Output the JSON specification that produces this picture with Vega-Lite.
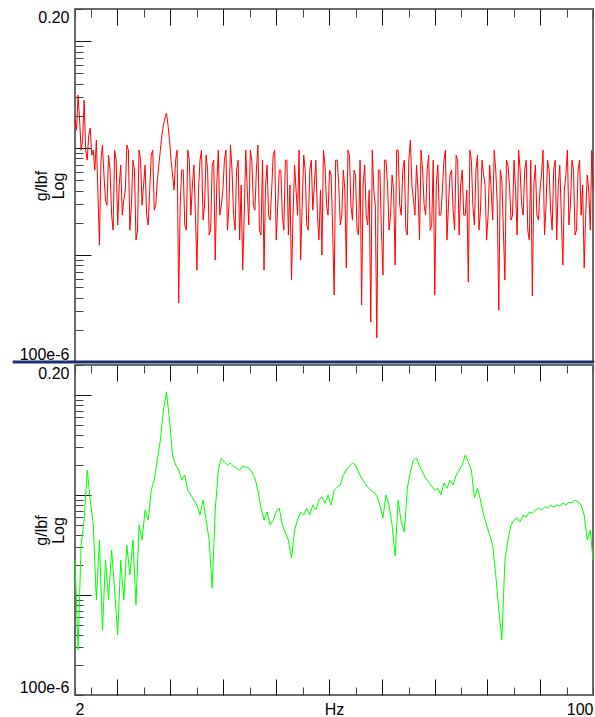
{
  "$schema": "https://vega.github.io/schema/vega-lite/v6.json",
  "background": "white",
  "padding": {"left": 10, "top": 8, "right": 0, "bottom": 0},
  "bounds": "flush",
  "spacing": 3,
  "config": {
    "view": {"stroke": "#6b6b6b", "strokeWidth": 2},
    "style": {"guide-title": {"lineBreak": "\n"}},
    "axis": {"labelFont": "Liberation Sans", "labelFontSize": 16, "labelColor": "#000", "titleFont": "Liberation Sans", "titleFontSize": 16, "titleFontWeight": "normal", "titleColor": "#000"}
  },
  "datasets": {
    "red": [
      {"f":2.000,"v":0.0183},{"f":2.047,"v":0.0313},{"f":2.094,"v":0.00958},{"f":2.143,"v":0.0281},{"f":2.193,"v":0.00772},{"f":2.244,"v":0.0154},{"f":2.296,"v":0.00958},{"f":2.350,"v":0.0119},{"f":2.405,"v":0.00124},{"f":2.461,"v":0.0107},
      {"f":2.518,"v":0.00327},{"f":2.576,"v":0.0086},{"f":2.637,"v":0.00236},{"f":2.698,"v":0.00958},{"f":2.761,"v":0.00191},{"f":2.825,"v":0.00694},{"f":2.891,"v":0.00327},{"f":2.958,"v":0.0107},{"f":3.027,"v":0.00171},{"f":3.098,"v":0.00772},
      {"f":3.170,"v":0.00138},{"f":3.244,"v":0.00958},{"f":3.319,"v":0.00293},{"f":3.396,"v":0.00694},{"f":3.476,"v":0.00191},{"f":3.557,"v":0.0086},{"f":3.639,"v":0.00263},{"f":3.724,"v":0.00502},{"f":3.811,"v":0.00958},{"f":3.900,"v":0.0164},
      {"f":3.991,"v":0.0212},{"f":4.083,"v":0.0119},{"f":4.179,"v":0.00559},{"f":4.276,"v":0.00772},{"f":4.376,"v":0.000356},{"f":4.477,"v":0.00623},{"f":4.582,"v":0.00191},{"f":4.688,"v":0.00958},{"f":4.798,"v":0.00236},{"f":4.909,"v":0.00694},
      {"f":5.024,"v":0.000724},{"f":5.141,"v":0.00772},{"f":5.261,"v":0.00212},{"f":5.383,"v":0.0086},{"f":5.508,"v":0.00154},{"f":5.637,"v":0.00694},{"f":5.768,"v":0.000898},{"f":5.902,"v":0.00958},{"f":6.040,"v":0.00293},{"f":6.181,"v":0.00772},
      {"f":6.325,"v":0.00171},{"f":6.472,"v":0.0107},{"f":6.623,"v":0.00236},{"f":6.777,"v":0.00623},{"f":6.935,"v":0.00138},{"f":7.096,"v":0.000724},{"f":7.262,"v":0.00958},{"f":7.431,"v":0.00191},{"f":7.604,"v":0.00772},{"f":7.781,"v":0.00263},
      {"f":7.962,"v":0.0107},{"f":8.148,"v":0.00154},{"f":8.337,"v":0.000724},{"f":8.532,"v":0.00694},{"f":8.730,"v":0.00212},{"f":8.934,"v":0.0086},{"f":9.142,"v":0.00138},{"f":9.355,"v":0.00623},{"f":9.573,"v":0.00236},{"f":9.796,"v":0.00772},
      {"f":10.02,"v":0.00154},{"f":10.26,"v":0.000584},{"f":10.50,"v":0.00694},{"f":10.74,"v":0.00236},{"f":10.99,"v":0.000898},{"f":11.25,"v":0.0086},{"f":11.51,"v":0.00191},{"f":11.78,"v":0.00623},{"f":12.05,"v":0.00263},{"f":12.33,"v":0.00772},
      {"f":12.62,"v":0.00138},{"f":12.91,"v":0.00100},{"f":13.21,"v":0.00694},{"f":13.52,"v":0.00236},{"f":13.84,"v":0.00559},{"f":14.16,"v":0.000423},{"f":14.49,"v":0.00772},{"f":14.83,"v":0.00191},{"f":15.17,"v":0.00623},{"f":15.52,"v":0.000756},
      {"f":15.89,"v":0.0086},{"f":16.26,"v":0.00212},{"f":16.64,"v":0.00559},{"f":17.02,"v":0.00154},{"f":17.42,"v":0.000341},{"f":17.83,"v":0.00694},{"f":18.24,"v":0.00191},{"f":18.67,"v":0.000236},{"f":19.10,"v":0.00405},{"f":19.54,"v":0.000168},
      {"f":20.00,"v":0.00623},{"f":20.47,"v":0.00065},{"f":20.94,"v":0.00772},{"f":21.43,"v":0.00171},{"f":21.93,"v":0.00559},{"f":22.44,"v":0.000806},{"f":22.96,"v":0.00958},{"f":23.50,"v":0.00236},{"f":24.05,"v":0.00772},{"f":24.61,"v":0.00154},
      {"f":25.18,"v":0.0119},{"f":25.76,"v":0.00327},{"f":26.37,"v":0.00694},{"f":26.98,"v":0.00138},{"f":27.61,"v":0.00623},{"f":28.25,"v":0.00236},{"f":28.91,"v":0.0086},{"f":29.58,"v":0.00191},{"f":30.27,"v":0.000423},{"f":30.98,"v":0.00694},
      {"f":31.70,"v":0.00236},{"f":32.44,"v":0.00772},{"f":33.19,"v":0.00138},{"f":33.96,"v":0.00559},{"f":34.76,"v":0.00263},{"f":35.57,"v":0.0086},{"f":36.39,"v":0.00154},{"f":37.24,"v":0.00623},{"f":38.11,"v":0.00236},{"f":39.00,"v":0.000559},
      {"f":39.91,"v":0.00772},{"f":40.83,"v":0.00191},{"f":41.79,"v":0.0086},{"f":42.76,"v":0.00263},{"f":43.76,"v":0.00559},{"f":44.77,"v":0.00138},{"f":45.82,"v":0.00694},{"f":46.88,"v":0.00212},{"f":47.98,"v":0.00623},{"f":49.09,"v":0.000306},
      {"f":50.24,"v":0.00502},{"f":51.41,"v":0.000584},{"f":52.61,"v":0.00694},{"f":53.83,"v":0.00212},{"f":55.08,"v":0.00772},{"f":56.37,"v":0.00154},{"f":57.68,"v":0.00623},{"f":59.02,"v":0.00236},{"f":60.40,"v":0.00772},{"f":61.81,"v":0.00138},
      {"f":63.25,"v":0.000414},{"f":64.72,"v":0.00694},{"f":66.23,"v":0.00212},{"f":67.77,"v":0.00559},{"f":69.35,"v":0.00154},{"f":70.96,"v":0.00772},{"f":72.62,"v":0.00263},{"f":74.31,"v":0.00623},{"f":76.04,"v":0.00138},{"f":77.81,"v":0.00694},
      {"f":79.62,"v":0.000806},{"f":81.48,"v":0.00559},{"f":83.37,"v":0.00191},{"f":85.32,"v":0.00772},{"f":87.30,"v":0.00154},{"f":89.34,"v":0.00623},{"f":91.42,"v":0.00236},{"f":93.55,"v":0.000756},{"f":95.73,"v":0.00559},{"f":97.96,"v":0.00171},
      {"f":100.0,"v":0.00405},
      {"f":2.023,"v":0.0147},{"f":2.071,"v":0.0183},{"f":2.119,"v":0.0119},{"f":2.168,"v":0.00958},{"f":2.218,"v":0.0132},{"f":2.270,"v":0.0086},{"f":2.323,"v":0.00623},{"f":2.377,"v":0.00405},{"f":2.433,"v":0.00772},{"f":2.489,"v":0.00559},
      {"f":2.547,"v":0.00293},{"f":2.606,"v":0.00623},{"f":2.667,"v":0.00171},{"f":2.729,"v":0.00772},{"f":2.793,"v":0.00451},{"f":2.858,"v":0.00236},{"f":2.925,"v":0.00405},{"f":2.993,"v":0.00958},{"f":3.062,"v":0.00293},{"f":3.134,"v":0.00623},
      {"f":3.207,"v":0.00171},{"f":3.281,"v":0.00772},{"f":3.357,"v":0.00451},{"f":3.436,"v":0.00236},{"f":3.516,"v":0.00405},{"f":3.597,"v":0.00958},{"f":3.681,"v":0.00293},{"f":3.767,"v":0.00694},{"f":3.855,"v":0.01323},{"f":3.945,"v":0.0191},
      {"f":4.037,"v":0.0164},{"f":4.131,"v":0.00772},{"f":4.227,"v":0.00405},{"f":4.325,"v":0.00958},{"f":4.426,"v":0.00293},{"f":4.529,"v":0.00623},{"f":4.635,"v":0.00171},{"f":4.742,"v":0.00772},{"f":4.853,"v":0.00451},{"f":4.966,"v":0.00236},
      {"f":5.082,"v":0.00405},{"f":5.200,"v":0.00958},{"f":5.321,"v":0.00293},{"f":5.445,"v":0.00623},{"f":5.572,"v":0.00171},{"f":5.702,"v":0.00772},{"f":5.834,"v":0.00451},{"f":5.970,"v":0.00236},{"f":6.110,"v":0.00405},{"f":6.252,"v":0.00958},
      {"f":6.398,"v":0.00293},{"f":6.547,"v":0.00623},{"f":6.700,"v":0.00171},{"f":6.856,"v":0.00772},{"f":7.015,"v":0.00451},{"f":7.179,"v":0.00236},{"f":7.346,"v":0.00405},{"f":7.517,"v":0.00958},{"f":7.692,"v":0.00293},{"f":7.871,"v":0.00623},
      {"f":8.054,"v":0.00171},{"f":8.242,"v":0.00772},{"f":8.434,"v":0.00451},{"f":8.630,"v":0.00236},{"f":8.831,"v":0.00405},{"f":9.037,"v":0.00958},{"f":9.248,"v":0.00293},{"f":9.463,"v":0.00623},{"f":9.684,"v":0.00171},{"f":9.909,"v":0.00772},
      {"f":10.14,"v":0.00451},{"f":10.38,"v":0.00236},{"f":10.62,"v":0.00405},{"f":10.86,"v":0.00958},{"f":11.12,"v":0.00293},{"f":11.38,"v":0.00623},{"f":11.64,"v":0.00171},{"f":11.91,"v":0.00772},{"f":12.19,"v":0.00451},{"f":12.48,"v":0.00236},
      {"f":12.77,"v":0.00405},{"f":13.06,"v":0.00958},{"f":13.37,"v":0.00293},{"f":13.68,"v":0.00623},{"f":14.00,"v":0.00171},{"f":14.32,"v":0.00772},{"f":14.66,"v":0.00451},{"f":15.00,"v":0.00236},{"f":15.35,"v":0.00405},{"f":15.71,"v":0.00958},
      {"f":16.07,"v":0.00293},{"f":16.45,"v":0.00623},{"f":16.83,"v":0.00171},{"f":17.22,"v":0.00772},{"f":17.62,"v":0.00451},{"f":18.03,"v":0.00236},{"f":18.45,"v":0.00405},{"f":18.88,"v":0.00958},{"f":19.32,"v":0.00293},{"f":19.77,"v":0.00623},
      {"f":20.23,"v":0.00171},{"f":20.70,"v":0.00772},{"f":21.19,"v":0.00451},{"f":21.68,"v":0.00236},{"f":22.18,"v":0.00405},{"f":22.70,"v":0.00958},{"f":23.23,"v":0.00293},{"f":23.77,"v":0.00623},{"f":24.33,"v":0.00171},{"f":24.89,"v":0.00772},
      {"f":25.47,"v":0.00451},{"f":26.06,"v":0.00236},{"f":26.67,"v":0.00405},{"f":27.29,"v":0.00958},{"f":27.93,"v":0.00293},{"f":28.58,"v":0.00623},{"f":29.24,"v":0.00171},{"f":29.92,"v":0.00772},{"f":30.62,"v":0.00451},{"f":31.33,"v":0.00236},
      {"f":32.06,"v":0.00405},{"f":32.81,"v":0.00958},{"f":33.57,"v":0.00293},{"f":34.36,"v":0.00623},{"f":35.16,"v":0.00171},{"f":35.97,"v":0.00772},{"f":36.81,"v":0.00451},{"f":37.67,"v":0.00236},{"f":38.55,"v":0.00405},{"f":39.45,"v":0.00958},
      {"f":40.36,"v":0.00293},{"f":41.31,"v":0.00623},{"f":42.27,"v":0.00171},{"f":43.25,"v":0.00772},{"f":44.26,"v":0.00451},{"f":45.29,"v":0.00236},{"f":46.35,"v":0.00405},{"f":47.42,"v":0.00958},{"f":48.53,"v":0.00293},{"f":49.66,"v":0.00623},
      {"f":50.82,"v":0.00171},{"f":52.00,"v":0.00772},{"f":53.21,"v":0.00451},{"f":54.45,"v":0.00236},{"f":55.72,"v":0.00405},{"f":57.02,"v":0.00958},{"f":58.34,"v":0.00293},{"f":59.70,"v":0.00623},{"f":61.09,"v":0.00171},{"f":62.52,"v":0.00772},
      {"f":63.97,"v":0.00451},{"f":65.46,"v":0.00236},{"f":66.99,"v":0.00405},{"f":68.55,"v":0.00958},{"f":70.15,"v":0.00293},{"f":71.78,"v":0.00623},{"f":73.45,"v":0.00171},{"f":75.16,"v":0.00772},{"f":76.91,"v":0.00451},{"f":78.71,"v":0.00236},
      {"f":80.54,"v":0.00405},{"f":82.41,"v":0.00958},{"f":84.33,"v":0.00293},{"f":86.30,"v":0.00623},{"f":88.31,"v":0.00171},{"f":90.36,"v":0.00772},{"f":92.47,"v":0.00451},{"f":94.62,"v":0.00236},{"f":96.83,"v":0.00405},{"f":99.08,"v":0.00958}
    ],
    "green": [
      {"f":2.000,"v":0.00224},{"f":2.047,"v":0.000282},{"f":2.094,"v":0.00316},{"f":2.143,"v":0.00562},{"f":2.193,"v":0.0178},{"f":2.244,"v":0.00891},{"f":2.296,"v":0.00501},{"f":2.350,"v":0.000891},{"f":2.405,"v":0.00355},{"f":2.461,"v":0.000447},
      {"f":2.518,"v":0.00224},{"f":2.576,"v":0.000891},{"f":2.637,"v":0.00282},{"f":2.698,"v":0.00112},{"f":2.761,"v":0.000398},{"f":2.825,"v":0.00224},{"f":2.891,"v":0.000891},{"f":2.958,"v":0.00316},{"f":3.027,"v":0.00158},{"f":3.098,"v":0.00355},
      {"f":3.170,"v":0.000794},{"f":3.244,"v":0.00501},{"f":3.319,"v":0.00355},{"f":3.396,"v":0.00708},{"f":3.476,"v":0.00562},{"f":3.557,"v":0.0112},{"f":3.639,"v":0.0141},{"f":3.724,"v":0.0224},{"f":3.811,"v":0.0355},{"f":3.900,"v":0.0708},
      {"f":3.991,"v":0.1072},{"f":4.083,"v":0.0562},{"f":4.179,"v":0.0251},{"f":4.276,"v":0.0200},{"f":4.376,"v":0.0178},{"f":4.477,"v":0.0141},{"f":4.582,"v":0.0158},{"f":4.688,"v":0.0112},{"f":4.798,"v":0.0100},{"f":4.909,"v":0.00891},
      {"f":5.024,"v":0.00794},{"f":5.141,"v":0.00631},{"f":5.261,"v":0.00891},{"f":5.383,"v":0.00562},{"f":5.508,"v":0.00355},{"f":5.637,"v":0.00117},{"f":5.768,"v":0.00708},{"f":5.902,"v":0.0178},{"f":6.040,"v":0.0234},{"f":6.181,"v":0.0214},
      {"f":6.325,"v":0.0200},{"f":6.472,"v":0.0209},{"f":6.623,"v":0.0195},{"f":6.777,"v":0.0186},{"f":6.935,"v":0.0178},{"f":7.096,"v":0.0195},{"f":7.262,"v":0.0191},{"f":7.431,"v":0.0186},{"f":7.604,"v":0.0170},{"f":7.781,"v":0.0148},
      {"f":7.962,"v":0.0112},{"f":8.148,"v":0.00741},{"f":8.337,"v":0.00562},{"f":8.532,"v":0.00676},{"f":8.730,"v":0.00501},{"f":8.934,"v":0.00562},{"f":9.142,"v":0.00676},{"f":9.355,"v":0.00741},{"f":9.573,"v":0.00501},{"f":9.796,"v":0.00417},
      {"f":10.02,"v":0.00355},{"f":10.26,"v":0.00234},{"f":10.50,"v":0.00447},{"f":10.74,"v":0.00562},{"f":10.99,"v":0.00676},{"f":11.25,"v":0.00631},{"f":11.51,"v":0.00741},{"f":11.78,"v":0.00631},{"f":12.05,"v":0.00794},{"f":12.33,"v":0.00708},
      {"f":12.62,"v":0.00891},{"f":12.91,"v":0.00955},{"f":13.21,"v":0.00832},{"f":13.52,"v":0.0100},{"f":13.84,"v":0.00794},{"f":14.16,"v":0.0112},{"f":14.49,"v":0.0120},{"f":14.83,"v":0.0126},{"f":15.17,"v":0.0158},{"f":15.52,"v":0.0178},
      {"f":15.89,"v":0.0195},{"f":16.26,"v":0.0209},{"f":16.64,"v":0.0200},{"f":17.02,"v":0.0170},{"f":17.42,"v":0.0148},{"f":17.83,"v":0.0132},{"f":18.24,"v":0.0120},{"f":18.67,"v":0.0112},{"f":19.10,"v":0.0107},{"f":19.54,"v":0.00977},
      {"f":20.00,"v":0.00794},{"f":20.47,"v":0.00589},{"f":20.94,"v":0.0100},{"f":21.43,"v":0.00794},{"f":21.93,"v":0.00501},{"f":22.44,"v":0.00245},{"f":22.96,"v":0.00891},{"f":23.50,"v":0.00537},{"f":24.05,"v":0.00427},{"f":24.61,"v":0.0117},
      {"f":25.18,"v":0.0170},{"f":25.76,"v":0.0224},{"f":26.37,"v":0.0234},{"f":26.98,"v":0.0195},{"f":27.61,"v":0.0170},{"f":28.25,"v":0.0148},{"f":28.91,"v":0.0135},{"f":29.58,"v":0.0123},{"f":30.27,"v":0.0112},{"f":30.98,"v":0.0117},
      {"f":31.70,"v":0.0100},{"f":32.44,"v":0.0132},{"f":33.19,"v":0.0117},{"f":33.96,"v":0.0141},{"f":34.76,"v":0.0126},{"f":35.57,"v":0.0158},{"f":36.39,"v":0.0178},{"f":37.24,"v":0.0200},{"f":38.11,"v":0.0251},{"f":39.00,"v":0.0214},
      {"f":39.91,"v":0.0178},{"f":40.83,"v":0.00933},{"f":41.79,"v":0.0117},{"f":42.76,"v":0.00891},{"f":43.76,"v":0.00631},{"f":44.77,"v":0.00501},{"f":45.82,"v":0.00398},{"f":46.88,"v":0.00316},{"f":47.98,"v":0.00158},{"f":49.09,"v":0.000708},
      {"f":50.24,"v":0.000355},{"f":51.41,"v":0.00224},{"f":52.61,"v":0.00355},{"f":53.83,"v":0.00501},{"f":55.08,"v":0.00562},{"f":56.37,"v":0.00589},{"f":57.68,"v":0.00537},{"f":59.02,"v":0.00631},{"f":60.40,"v":0.00603},{"f":61.81,"v":0.00676},
      {"f":63.25,"v":0.00661},{"f":64.72,"v":0.00708},{"f":66.23,"v":0.00741},{"f":67.77,"v":0.00708},{"f":69.35,"v":0.00759},{"f":70.96,"v":0.00741},{"f":72.62,"v":0.00794},{"f":74.31,"v":0.00759},{"f":76.04,"v":0.00794},{"f":77.81,"v":0.00776},
      {"f":79.62,"v":0.00832},{"f":81.48,"v":0.00794},{"f":83.37,"v":0.00851},{"f":85.32,"v":0.00832},{"f":87.30,"v":0.00891},{"f":89.34,"v":0.00851},{"f":91.42,"v":0.00794},{"f":93.55,"v":0.00631},{"f":95.73,"v":0.00355},{"f":97.96,"v":0.00447},
      {"f":100.0,"v":0.00224}
    ],
    "sep": [{"f": 1.25, "f2": 101, "v": 0.0001}]
  },
  "vconcat": [
    {
      "width": 518,
      "height": 353,
      "encoding": {
        "x": {
          "field": "f", "type": "quantitative",
          "scale": {"type": "log", "domain": [2, 100], "nice": false},
          "axis": {
            "orient": "bottom", "labels": false, "ticks": false, "domain": false, "title": null, "grid": true,
            "values": [2, 2.257, 2.746, 3.366, 4.096, 5.02, 6.108, 7.486, 9.109, 11.16, 13.58, 16.65, 20.26, 24.83, 30.22, 37.03, 45.06, 55.23, 67.2, 82.36, 100],
            "gridWidth": 1, "gridOpacity": 1,
            "gridColor": {"condition": {"test": "indexof([2.746,4.096,6.108,9.109,13.58,20.26,30.22,45.06,67.2], datum.value) >= 0", "value": "#111111"}, "value": "#444444"},
            "gridDash": {"condition": {"test": "indexof([2.746,4.096,6.108,9.109,13.58,20.26,30.22,45.06,67.2], datum.value) >= 0", "value": [16, 2000]}, "value": [8, 2000]}
          }
        },
        "y": {
          "field": "v", "type": "quantitative",
          "scale": {"type": "log", "domain": [0.0001, 0.2], "nice": false},
          "axis": {
            "orient": "left", "ticks": false, "domain": false, "grid": true,
            "values": [0.2, 0.1, 0.09, 0.08, 0.07, 0.06, 0.05, 0.04, 0.03, 0.02, 0.01, 0.009, 0.008, 0.007, 0.006, 0.005, 0.004, 0.003, 0.002, 0.001, 0.0009, 0.0008, 0.0007, 0.0006, 0.0005, 0.0004, 0.0003, 0.0002, 0.0001],
            "labelExpr": "datum.value == 0.2 ? '0.20' : (datum.value == 0.0001 ? '100e-6' : '')",
            "labelFlush": true, "labelOverlap": false, "labelPadding": 6,
            "gridWidth": 1, "gridOpacity": 1,
            "gridColor": {"condition": {"test": "datum.value == 0.1 || datum.value == 0.01 || datum.value == 0.001", "value": "#111111"}, "value": "#444444"},
            "gridDash": {"condition": {"test": "datum.value == 0.1 || datum.value == 0.01 || datum.value == 0.001", "value": [16, 2000]}, "value": [8, 2000]},
            "title": "g/lbf\nLog", "titleFontSize": 16, "titleX": -26, "titleBaseline": "bottom", "titleLineHeight": 17
          }
        }
      },
      "layer": [
        {"data": {"name": "red"}, "mark": {"type": "line", "color": "#ff0000", "strokeWidth": 1}},
        {"data": {"name": "sep"}, "mark": {"type": "rule", "color": "#163272", "strokeWidth": 3, "clip": false}, "encoding": {"x2": {"field": "f2"}}}
      ]
    },
    {
      "width": 518,
      "height": 330,
      "data": {"name": "green"},
      "mark": {"type": "line", "color": "#00ff00", "strokeWidth": 1},
      "encoding": {
        "x": {
          "field": "f", "type": "quantitative",
          "scale": {"type": "log", "domain": [2, 100], "nice": false},
          "axis": {
            "orient": "bottom", "ticks": false, "domain": false, "grid": true,
            "values": [2, 2.257, 2.746, 3.366, 4.096, 5.02, 6.108, 7.486, 9.109, 11.16, 13.58, 16.65, 20.26, 24.83, 30.22, 37.03, 45.06, 55.23, 67.2, 82.36, 100],
            "labelExpr": "datum.value == 2 ? '2' : (datum.value == 100 ? '100' : '')",
            "labelFlush": true, "labelOverlap": false, "labelPadding": 6,
            "gridWidth": 1, "gridOpacity": 1,
            "gridColor": {"condition": {"test": "indexof([2.746,4.096,6.108,9.109,13.58,20.26,30.22,45.06,67.2], datum.value) >= 0", "value": "#111111"}, "value": "#444444"},
            "gridDash": {"condition": {"test": "indexof([2.746,4.096,6.108,9.109,13.58,20.26,30.22,45.06,67.2], datum.value) >= 0", "value": [16, 298, 16, 2000]}, "value": [8, 314, 8, 2000]},
            "title": "Hz", "titleFontSize": 16, "titleY": 6, "titleBaseline": "top"
          }
        },
        "y": {
          "field": "v", "type": "quantitative",
          "scale": {"type": "log", "domain": [0.0001, 0.2], "nice": false},
          "axis": {
            "orient": "left", "ticks": false, "domain": false, "grid": true,
            "values": [0.2, 0.1, 0.09, 0.08, 0.07, 0.06, 0.05, 0.04, 0.03, 0.02, 0.01, 0.009, 0.008, 0.007, 0.006, 0.005, 0.004, 0.003, 0.002, 0.001, 0.0009, 0.0008, 0.0007, 0.0006, 0.0005, 0.0004, 0.0003, 0.0002, 0.0001],
            "labelExpr": "datum.value == 0.2 ? '0.20' : (datum.value == 0.0001 ? '100e-6' : '')",
            "labelFlush": true, "labelOverlap": false, "labelPadding": 6,
            "gridWidth": 1, "gridOpacity": 1,
            "gridColor": {"condition": {"test": "datum.value == 0.1 || datum.value == 0.01 || datum.value == 0.001", "value": "#111111"}, "value": "#444444"},
            "gridDash": {"condition": {"test": "datum.value == 0.1 || datum.value == 0.01 || datum.value == 0.001", "value": [16, 2000]}, "value": [8, 2000]},
            "title": "g/lbf\nLog", "titleFontSize": 16, "titleX": -26, "titleBaseline": "bottom", "titleLineHeight": 17
          }
        }
      }
    }
  ]
}
